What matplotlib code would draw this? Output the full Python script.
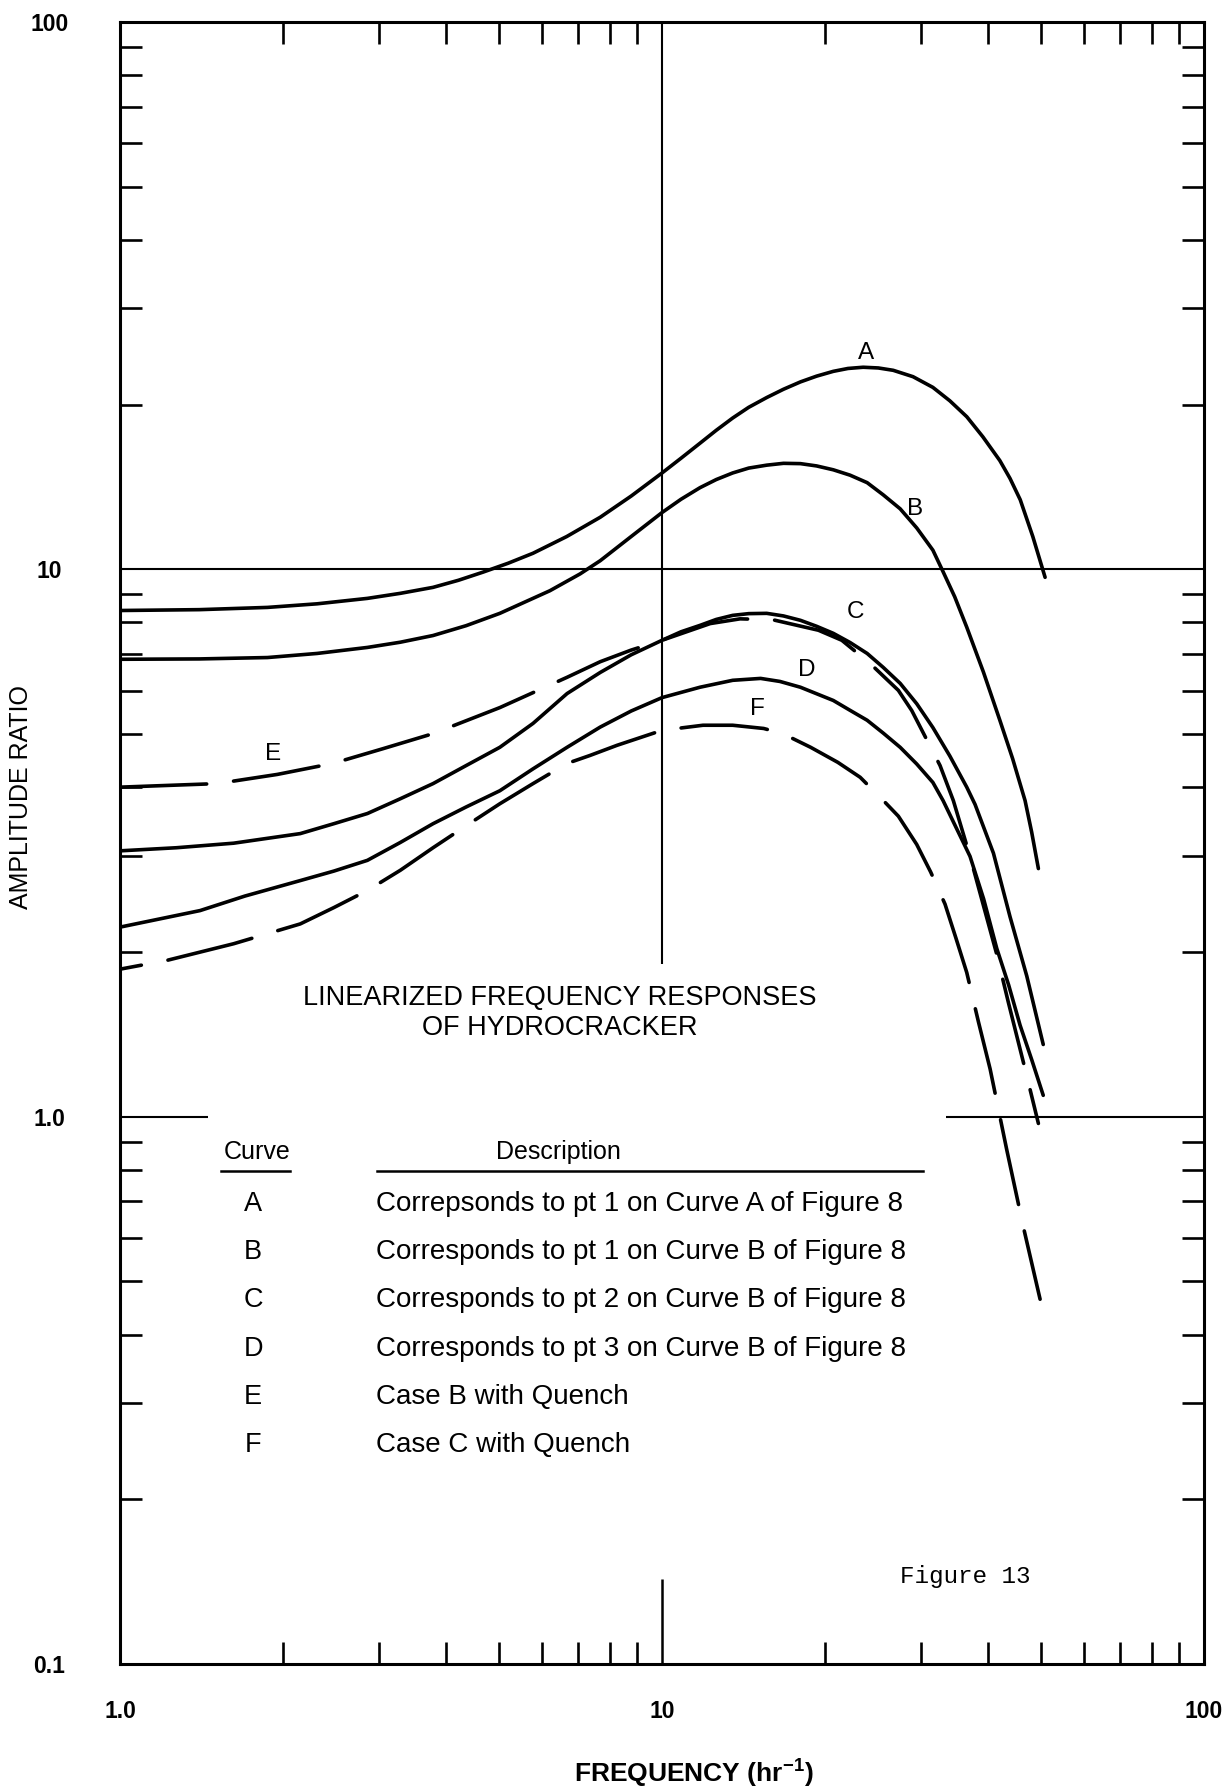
import matplotlib
matplotlib.use('Agg')
import matplotlib.pyplot as plt
from matplotlib.ticker import FixedLocator, NullFormatter

plt.rcParams['font.family'] = ['Liberation Sans', 'DejaVu Sans']
plt.rcParams['mathtext.fontset'] = 'custom'
plt.rcParams['mathtext.rm'] = 'Liberation Sans'
plt.rcParams['mathtext.bf'] = 'Liberation Sans:bold'

# --- frequency responses (freq in 1/hr, amplitude ratio) ---
freq_a = [1, 1.4, 1.87, 2.31, 2.86, 3.29, 3.78, 4.21, 4.67, 5.20, 5.78, 6.67, 7.69, 8.77, 10,
          10.84, 11.75, 12.59, 13.5, 14.45, 15.6, 16.75, 18, 19.28, 20.7, 22.03, 23.5,
          25.06, 26.7, 29.04, 31.6, 33.96, 36.5, 39.08, 42, 43.85, 45.8, 48.31, 50.9]
amp_a = [8.41, 8.44, 8.52, 8.65, 8.85, 9.04, 9.27, 9.55, 9.88, 10.26, 10.7, 11.48, 12.45,
         13.61, 15.0, 15.96, 17.0, 17.95, 18.9, 19.77, 20.6, 21.33, 22.0, 22.54, 23.0, 23.28,
         23.4, 23.33, 23.1, 22.49, 21.5, 20.32, 19.0, 17.46, 15.8, 14.66, 13.4, 11.48, 9.67]

freq_b = [1, 1.4, 1.87, 2.31, 2.86, 3.29, 3.78, 4.35, 5.02, 6.21, 7.06, 7.69, 8.77, 10,
          10.84, 11.75, 12.59, 13.5, 14.45, 15.6, 16.75, 18, 19.28, 20.7, 22.23, 23.9, 25.59,
          27.5, 29.51, 31.6, 33.0, 34.67, 36.49, 39.17, 42, 44.34, 46.75, 48.08, 49.47]
amp_b = [6.85, 6.86, 6.90, 7.02, 7.20, 7.36, 7.57, 7.89, 8.31, 9.14, 9.81, 10.37, 11.48, 12.7,
         13.43, 14.1, 14.59, 15.0, 15.31, 15.5, 15.62, 15.6, 15.45, 15.2, 14.86, 14.4, 13.68,
         12.9, 11.9, 10.84, 9.9, 8.91, 7.84, 6.49, 5.30, 4.51, 3.78, 3.31, 2.84]

freq_c = [1, 1.27, 1.62, 2.15, 2.48, 2.86, 3.29, 3.78, 4.35, 5.02, 5.78, 6.68, 7.69, 8.77,
          10, 10.84, 11.75, 12.59, 13.5, 14.45, 15.6, 16.75, 18, 19.28, 20.7, 22.23, 23.9,
          25.59, 27.5, 29.51, 31.6, 33.96, 36.49, 37.8, 40.87, 43.85, 47.09, 50.5]
amp_c = [3.06, 3.10, 3.16, 3.29, 3.43, 3.58, 3.81, 4.06, 4.38, 4.73, 5.23, 5.93, 6.48, 6.98,
         7.42, 7.69, 7.90, 8.10, 8.24, 8.30, 8.31, 8.22, 8.07, 7.87, 7.64, 7.35, 7.02,
         6.62, 6.19, 5.68, 5.14, 4.56, 4.00, 3.72, 3.03, 2.32, 1.807, 1.355]

freq_d = [1, 1.405, 1.7, 2.15, 2.48, 2.86, 3.29, 3.78, 4.35, 5.02, 5.78, 6.68, 7.69, 8.77,
          10, 11.75, 13.5, 15.2, 16.5, 18, 20.7, 22.2, 23.9, 25.6, 27.5, 29.5, 31.6, 33.0,
          37.0, 39.2, 41.45, 43.6, 45.77, 48.1, 50.5]
amp_d = [2.22, 2.38, 2.53, 2.70, 2.81, 2.94, 3.17, 3.43, 3.68, 3.94, 4.32, 4.73, 5.15, 5.51,
         5.83, 6.09, 6.27, 6.32, 6.24, 6.09, 5.76, 5.53, 5.30, 5.02, 4.73, 4.41, 4.08, 3.78,
         2.99, 2.50, 2.03, 1.74, 1.469, 1.27, 1.094]

freq_e = [1, 1.51, 1.95, 2.47, 3.05, 3.78, 5.02, 6.68, 7.69, 8.77, 10, 12.27, 13.93, 16.0,
          19.43, 21.46, 24.2, 27.29, 28.89, 32.58, 34.47, 37.0, 41.45, 43.55, 46.75, 49.47]
amp_e = [4.0, 4.06, 4.22, 4.42, 4.70, 5.01, 5.59, 6.35, 6.78, 7.12, 7.42, 7.96, 8.12, 8.09,
         7.74, 7.42, 6.73, 6.01, 5.52, 4.38, 3.78, 2.99, 1.98, 1.617, 1.222, 0.972]

freq_f = [1, 1.22, 1.62, 2.15, 2.48, 2.86, 3.29, 3.78, 4.35, 5.02, 5.78, 6.68, 7.36, 8.26,
          10, 11.9, 13.5, 15.4, 16.7, 18.8, 21.1, 23.2, 25.61, 27.29, 29.5, 31.3, 33.27,
          34.85, 36.49, 38.35, 40.3, 43.25, 46.41, 49.83]
amp_f = [1.86, 1.93, 2.07, 2.25, 2.41, 2.59, 2.82, 3.10, 3.40, 3.73, 4.06, 4.42, 4.57, 4.77,
         5.08, 5.19, 5.19, 5.12, 5.01, 4.73, 4.44, 4.17, 3.78, 3.54, 3.144, 2.80, 2.446,
         2.12, 1.834, 1.49, 1.222, 0.87, 0.629, 0.464]

curve_ids = ['A', 'B', 'C', 'D', 'E', 'F']
descriptions = [
    'Correpsonds to pt 1 on Curve A of Figure 8',
    'Corresponds to pt 1 on Curve B of Figure 8',
    'Corresponds to pt 2 on Curve B of Figure 8',
    'Corresponds to pt 3 on Curve B of Figure 8',
    'Case B with Quench',
    'Case C with Quench',
]

y_ticks = [0.1, 1, 10, 100]
y_tick_labels = ['0.1', '1.0', '10', '100']
x_ticks = [1, 10, 100]
x_tick_labels = ['1.0', '10', '100']

# --- figure ---
fig = plt.figure(figsize=(12.25, 17.87), dpi=100)
ax = fig.add_axes([0.098, 0.0688, 0.8849, 0.9189])
ax.set_xscale('log')
ax.set_yscale('log')
ax.set_xlim(1, 100)
ax.set_ylim(0.1, 100)

solid = dict(color='black', lw=2.6, solid_capstyle='round', solid_joinstyle='round')
dash_kw = dict(color='black', lw=2.6, dash_capstyle='round', dash_joinstyle='round')

ax.plot(freq_a, amp_a, **solid)
ax.plot(freq_b, amp_b, **solid)
ax.plot(freq_c, amp_c, **solid)
ax.plot(freq_d, amp_d, **solid)
ax.plot(freq_e, amp_e, linestyle=(0, (24, 7.5)), **dash_kw)
ax.plot(freq_f, amp_f, linestyle=(18, (24, 7.5)), **dash_kw)

# reference lines at 10 and 1.0 (broken where the text sits)
ax.axhline(10, color='black', lw=1.5)
ax.hlines(1, 1, 1.45, color='black', lw=1.5)
ax.hlines(1, 33.4, 100, color='black', lw=1.5)
ax.vlines(10, 1.9, 100, color='black', lw=1.5)
ax.vlines(10, 0.1, 0.143, color='black', lw=1.8)

# curve letters
label_pos = {'A': (23.8, 24.8), 'B': (29.3, 12.9), 'C': (22.7, 8.35),
             'D': (18.5, 6.54), 'E': (1.915, 4.59), 'F': (15.0, 5.55)}
for cid in curve_ids:
    lx, ly = label_pos[cid]
    ax.text(lx, ly, cid, fontsize=17.5, ha='center', va='center')

# --- axes styling ---
for sp in ax.spines.values():
    sp.set_linewidth(2.2)

minor_y = [m * 10.0 ** e for e in range(-1, 2) for m in range(2, 10)]
minor_x = [m * 10.0 ** e for e in range(0, 2) for m in range(2, 10)]
ax.yaxis.set_major_locator(FixedLocator(y_ticks))
ax.yaxis.set_minor_locator(FixedLocator(minor_y))
ax.xaxis.set_major_locator(FixedLocator(x_ticks))
ax.xaxis.set_minor_locator(FixedLocator(minor_x))
ax.set_yticklabels(y_tick_labels)
ax.set_xticklabels(x_tick_labels)
ax.yaxis.set_minor_formatter(NullFormatter())
ax.xaxis.set_minor_formatter(NullFormatter())

ax.tick_params(which='both', direction='in', top=True, right=True)
ax.tick_params(which='major', length=0, labelsize=16.5)
ax.tick_params(axis='y', which='major', pad=51)
ax.tick_params(axis='x', which='major', pad=26)
ax.tick_params(which='minor', length=16, width=1.9)
plt.setp(ax.get_yticklabels(), fontweight='bold', ha='center')
plt.setp(ax.get_xticklabels(), fontweight='bold')

ax.set_ylabel('AMPLITUDE RATIO', fontsize=18)
ax.yaxis.set_label_coords(-0.080, 0.528)
ax.set_xlabel('FREQUENCY (hr$^{\\mathbf{-1}}$)', fontsize=19, fontweight='bold')
ax.xaxis.set_label_coords(0.5295, -0.056)

# --- title block and table ---
ax.text(0.4059, 0.3965, 'LINEARIZED FREQUENCY RESPONSES\nOF HYDROCRACKER',
        transform=ax.transAxes, fontsize=19.5, ha='center', va='center')

ax.text(0.1264, 0.3118, 'Curve', transform=ax.transAxes, fontsize=18,
        ha='center', va='center')
ax.text(0.404, 0.3118, 'Description', transform=ax.transAxes, fontsize=18,
        ha='center', va='center')
ax.plot([0.0932, 0.1568], [0.3002, 0.3002], transform=ax.transAxes, color='black', lw=1.8)
ax.plot([0.2371, 0.7408], [0.3002, 0.3002], transform=ax.transAxes, color='black', lw=1.8)

row_y = 0.2801
for cid, desc in zip(curve_ids, descriptions):
    ax.text(0.1227, row_y, cid, transform=ax.transAxes, fontsize=19.5,
            ha='center', va='center')
    ax.text(0.2362, row_y, desc, transform=ax.transAxes, fontsize=20,
            ha='left', va='center')
    row_y -= 0.02934

ax.text(0.7196, 0.0536, 'Figure 13', transform=ax.transAxes, fontsize=17.5,
        family=['Liberation Mono', 'DejaVu Sans Mono'], ha='left', va='center')

fig.savefig('out.png', dpi=100)
